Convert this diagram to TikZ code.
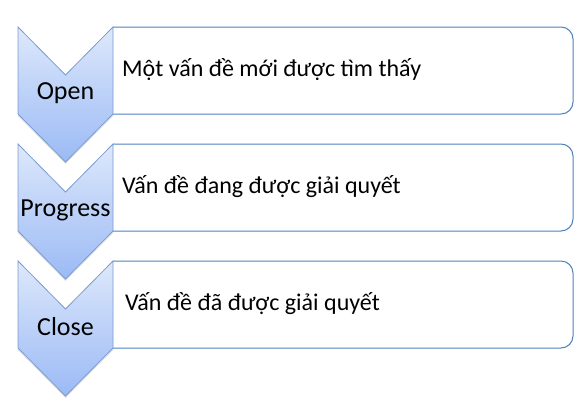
\documentclass[tikz,border=0pt]{standalone}
\usepackage{fontspec}
\setmainfont{Carlito}
\usetikzlibrary{shadows}

\definecolor{boxblue}{HTML}{4F81BD}
\definecolor{chevedge}{HTML}{7A9CD3}
\definecolor{chevtop}{HTML}{DDE8FB}
\definecolor{chevbottom}{HTML}{9BBAF5}

\tikzset{
	stepbox/.style={draw=boxblue, line width=1pt, rounded corners=12pt},
	chevron/.style={draw=chevedge, line width=0.8pt, top color=chevtop, bottom color=chevbottom,
		drop shadow={shadow xshift=0pt, shadow yshift=-2pt, opacity=0.25}},
	chevtext/.style={font=\fontsize{26}{30}\selectfont, inner sep=0pt},
	desctext/.style={font=\fontsize{24}{28}\selectfont, inner sep=0pt, anchor=west}
}

\begin{document}
\begin{tikzpicture}
	[x=1pt, y=-1pt]
	\useasboundingbox (0,0) rectangle (586,402);
	\foreach \y/\name/\desc/\dx [count=\i] in
		{27/Open/{Một vấn đề mới được tìm thấy}/122,
		 144/Progress/{Vấn đề đang được giải quyết}/122,
		 261/Close/{Vấn đề đã được giải quyết}/125}
	{	% box on the right
		\draw[stepbox] (113,\y) -- (573,\y) -- (573,\y+87) -- (113,\y+87);
		\node[desctext] (desc\i) at (\dx,\y+43) {\desc};
		% chevron on the left
		\draw[chevron] (18,\y) -- (65.5,\y+48) -- (113,\y) -- (113,\y+87)
			-- (65.5,\y+135) -- (18,\y+87) -- cycle;
		\node[chevtext] (step\i) at (65.5,\y+66) {\name};
		}
	\end{tikzpicture}
\end{document}
